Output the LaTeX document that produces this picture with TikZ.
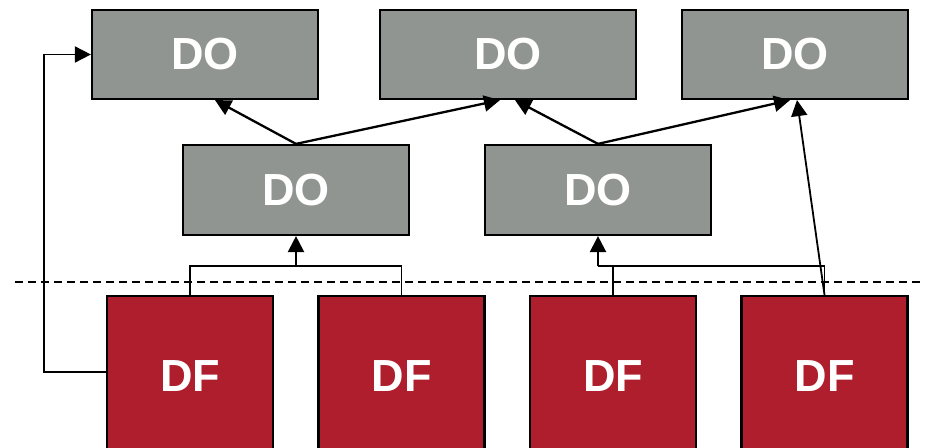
\documentclass[tikz,border=0pt]{standalone}
\usepackage{fontspec}
\setmainfont{Liberation Sans}
\usetikzlibrary{arrows.meta}

\definecolor{dogray}{RGB}{145,149,146}
\definecolor{dfred}{RGB}{174,30,45}

\begin{document}
\begin{tikzpicture}[x=1pt,y=1pt]
        \tikzstyle{arrow} = [line width=2.3pt,-{Triangle[length=16pt,width=16pt]}]
        \tikzstyle{link} = [line width=1.7pt]
        \tikzstyle{dobox} = [draw,line width=2.2pt,fill=dogray,text=white,minimum width=226pt,minimum height=89pt,font=\fontsize{45}{50}\selectfont\bfseries]
        \tikzstyle{dfbox} = [draw,line width=2.2pt,fill=dfred,text=white,minimum width=166pt,minimum height=160pt,font=\fontsize{45}{50}\selectfont\bfseries]

        \useasboundingbox (0,0) rectangle (926,447);

        \node[dobox] (top1) at (205,392.5) {DO};
        \node[dobox,minimum width=256pt] (top2) at (508,392.5) {DO};
        \node[dobox] (top3) at (795,392.5) {DO};
        \node[dobox,minimum height=90pt] (mid1) at (296,257) {DO};
        \node[dobox,minimum height=90pt] (mid2) at (598,257) {DO};
        \node[dfbox] (df1) at (190,71) {DF};
        \node[dfbox] (df2) at (401.5,71) {DF};
        \node[dfbox] (df3) at (613,71) {DF};
        \node[dfbox] (df4) at (824.5,71) {DF};

        \coordinate (cutL) at (15,165);
        \coordinate (cutR) at (920,165);
        \draw[line width=1.7pt,dash pattern=on 8pt off 5pt] (cutL) -- (cutR);

        \coordinate (join1) at (296,181);
        \coordinate (join2) at (598,181);
        \coordinate (loop) at (44,75);
        \draw[link] (df1.north) |- (join1) -| (df2.north);
        \draw[link] (df3.north) |- (join2);
        \draw[link] (join2) -| (df4.north);
        \draw [arrow] (join1) -- (mid1.south);
        \draw [arrow] (join2) -- (mid2.south);

        \draw [arrow,line width=1.8pt] ([yshift=4pt]df1.west) -- (loop) |- (top1.west);
        \draw [arrow,line width=1.8pt] (df4.north) -- ([xshift=2pt]top3.south);

        \draw [arrow] (mid1.north) -- ([xshift=10pt]top1.south);
        \draw [arrow] (mid1.north) -- ([xshift=-8pt]top2.south);
        \draw [arrow] (mid2.north) -- ([xshift=7pt]top2.south);
        \draw [arrow] (mid2.north) -- ([xshift=-5pt]top3.south);
    \end{tikzpicture}
\end{document}
